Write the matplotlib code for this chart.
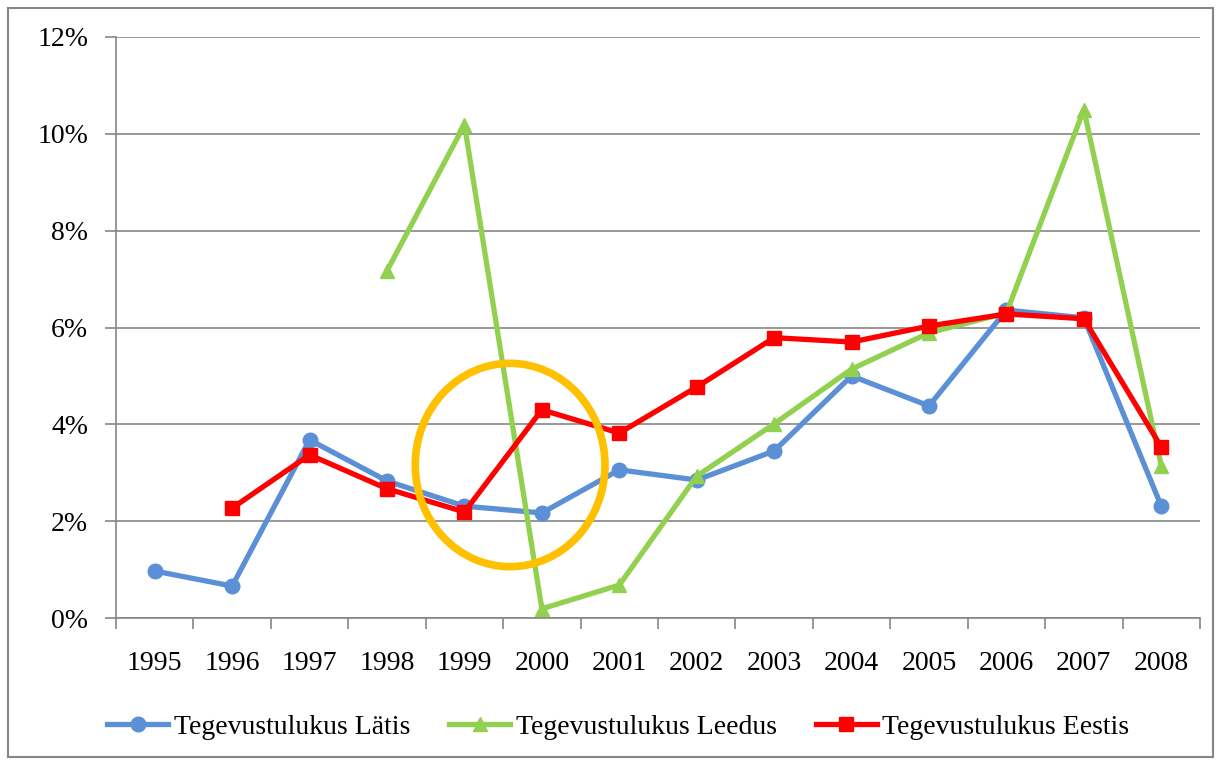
import numpy as np
import matplotlib
matplotlib.use("Agg")
import matplotlib.pyplot as plt
from matplotlib.patches import Ellipse, Rectangle

plt.rcParams['font.family'] = ['Liberation Serif', 'DejaVu Serif']

aastad = ['1995', '1996', '1997', '1998', '1999', '2000', '2001',
          '2002', '2003', '2004', '2005', '2006', '2007', '2008']
latis = [0.97, 0.66, 3.68, 2.83, 2.31, 2.17, 3.06, 2.85, 3.45, 5.00, 4.38, 6.36, 6.20, 2.31]
leedus = [np.nan, np.nan, np.nan, 7.17, 10.19, 0.19, 0.68, 2.93, 4.01, 5.14, 5.89, 6.30, 10.50, 3.14]
eestis = [np.nan, 2.27, 3.37, 2.67, 2.19, 4.30, 3.82, 4.77, 5.79, 5.70, 6.03, 6.28, 6.18, 3.53]

fig = plt.figure(figsize=(12.17, 7.62), dpi=100)
ax = fig.add_axes([116 / 1217, 1 - 618 / 762, (1200 - 116) / 1217, (618 - 37) / 762])

x = np.arange(len(aastad))
ax.plot(x, latis, color='#5B8FD6', lw=3.8, marker='o', ms=10.5, label='Tegevustulukus Lätis', zorder=3)
ax.plot(x, leedus, color='#92D050', lw=3.8, marker='^', ms=10.5, label='Tegevustulukus Leedus', zorder=3)
ax.plot(x, eestis, color='#FF0000', lw=3.8, marker='s', ms=10, label='Tegevustulukus Eestis', zorder=4)

# ring around 1999-2000
ax.add_patch(Ellipse((4.59, 3.16), 2.45, 4.2, fill=False, ec='#FFC000', lw=5.5, zorder=5))

ax.set_xlim(-0.5, 13.5)
ax.set_ylim(0, 12)
ax.set_yticks(range(0, 13, 2))
ax.set_yticklabels([f'{v}%' for v in range(0, 13, 2)])
ax.set_xticks(x)
ax.set_xticklabels(aastad)
ax.set_xticks(np.arange(-0.5, 14, 1), minor=True)
ax.tick_params(axis='x', which='major', length=0, pad=24, labelsize=20)
ax.tick_params(axis='x', which='minor', length=8, width=1.2, color='#868686')
ax.tick_params(axis='y', length=8, width=1.2, color='#868686', pad=12, labelsize=20)
ax.grid(axis='y', color='#868686', lw=1.2)
ax.set_axisbelow(True)
for s in ['top', 'right']:
    ax.spines[s].set_visible(False)
for s in ['left', 'bottom']:
    ax.spines[s].set_color('#868686')
    ax.spines[s].set_linewidth(1.2)

fig.legend(loc='center', bbox_to_anchor=(0.508, 1 - 727 / 762), ncol=3, frameon=False,
           fontsize=20, handlelength=2.2, columnspacing=1.4, handletextpad=0.2)

fig.patches.append(Rectangle((8 / 1217, 1 - 757 / 762), 1205 / 1217, 749 / 762,
                             transform=fig.transFigure, fill=False, ec='#868686', lw=1.5))

fig.savefig('out.png', dpi=100)
